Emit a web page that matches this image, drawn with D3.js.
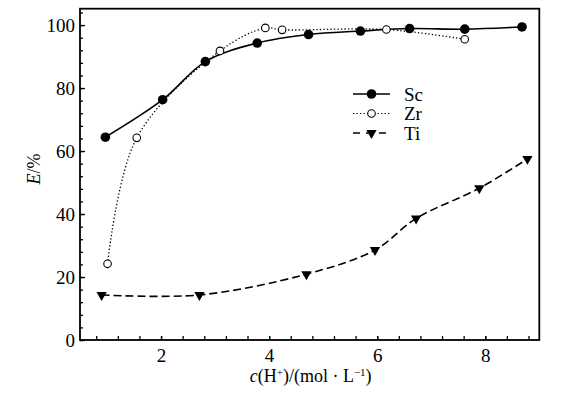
<!DOCTYPE html>
<html>
<head>
<meta charset="utf-8">
<script src="https://cdn.jsdelivr.net/npm/d3@7"></script>
<style>
  body { margin: 0; background: #fff; }
  svg { display: block; }
</style>
</head>
<body>
<svg id="chart"></svg>
<script>
// data
var scX = [0.97, 2.03, 2.82, 3.78, 4.73, 5.69, 6.60, 7.62, 8.68]
var scE = [64.4, 76.3, 88.4, 94.3, 97.0, 98.1, 98.9, 98.7, 99.4]
var zrX = [1.01, 1.55, 3.09, 3.93, 4.24, 6.17, 7.62]
var zrE = [24.2, 64.2, 91.8, 99.1, 98.5, 98.6, 95.5]
var tiX = [0.90, 2.71, 4.69, 5.96, 6.72, 7.89, 8.78]
var tiE = [14.3, 14.3, 20.9, 28.6, 38.6, 48.2, 57.5]
var seriesNames = ["Sc", "Zr", "Ti"]
var xTicks = [2, 4, 6, 8]
var yTicks = [0, 20, 40, 60, 80, 100]

var serif = "'Liberation Serif', 'Times New Roman', Times, serif"
var screen = {width:561, height:397}
var margins = {top:8.7, right:21.7, bottom:57, left:80}
var width = screen.width - margins.left - margins.right
var height = screen.height - margins.top - margins.bottom

var svg = d3.select("#chart")
    .attr("width", screen.width)
    .attr("height", screen.height)

var g = svg.append("g")
    .attr("transform", "translate(" + margins.left + "," + margins.top + ")")

var xScale = d3.scaleLinear().domain([0.5, 9]).range([0, width])
var yScale = d3.scaleLinear().domain([0, 105.2]).range([height, 0])

// minor ticks (every 0.4 on x, every 4 on y), no labels
var xMinor = d3.range(0.8, 8.81, 0.4)
var yMinor = d3.range(0, 104.1, 4)

g.append("g")
    .attr("transform", "translate(0," + height + ")")
    .call(d3.axisBottom(xScale).tickValues(xMinor).tickSize(-4).tickFormat(""))
g.append("g")
    .call(d3.axisLeft(yScale).tickValues(yMinor).tickSize(-3).tickFormat(""))

var xAxis = g.append("g")
    .attr("transform", "translate(0," + height + ")")
    .call(d3.axisBottom(xScale).tickValues(xTicks).tickSize(-4).tickPadding(8).tickFormat(d3.format("d")))
var yAxis = g.append("g")
    .call(d3.axisLeft(yScale).tickValues(yTicks).tickSize(-5).tickPadding(5).tickFormat(d3.format("d")))

g.selectAll(".domain").remove()
g.selectAll(".tick line").attr("stroke", "#000").attr("stroke-width", 1.3)
xAxis.selectAll("text").attr("font-family", null).style("font-family", serif).style("font-size", "19px").attr("dy", "0.72em")
yAxis.selectAll("text").attr("font-family", null).style("font-family", serif).style("font-size", "19px").attr("dy", "0.36em")

// frame
g.append("rect")
    .attr("width", width).attr("height", height)
    .attr("fill", "none").attr("stroke", "#000").attr("stroke-width", 1.8)

// series
var line = d3.line()
    .x(function(d){ return xScale(d[0]) })
    .y(function(d){ return yScale(d[1]) })
    .curve(d3.curveCatmullRom.alpha(0.5))

var sc = d3.zip(scX, scE)
var zr = d3.zip(zrX, zrE)
var ti = d3.zip(tiX, tiE)

var tri = d3.symbol().type(d3.symbolTriangle).size(46)

g.append("path").datum(ti).attr("d", line)
    .attr("fill", "none").attr("stroke", "#000").attr("stroke-width", 1.6).attr("stroke-dasharray", "8,4")
g.append("path").datum(zr).attr("d", line)
    .attr("fill", "none").attr("stroke", "#000").attr("stroke-width", 1.3).attr("stroke-dasharray", "1.3,2.2")
g.append("path").datum(sc).attr("d", line)
    .attr("fill", "none").attr("stroke", "#000").attr("stroke-width", 1.6)

g.selectAll(".ti").data(ti).enter().append("path")
    .attr("class", "ti")
    .attr("d", tri)
    .attr("transform", function(d){ return "translate(" + xScale(d[0]) + "," + yScale(d[1]) + ") rotate(180)" })
    .attr("fill", "#000")
g.selectAll(".zr").data(zr).enter().append("circle")
    .attr("class", "zr")
    .attr("cx", function(d){ return xScale(d[0]) })
    .attr("cy", function(d){ return yScale(d[1]) })
    .attr("r", 3.8)
    .attr("fill", "#fff").attr("stroke", "#000").attr("stroke-width", 1.1)
g.selectAll(".sc").data(sc).enter().append("circle")
    .attr("class", "sc")
    .attr("cx", function(d){ return xScale(d[0]) })
    .attr("cy", function(d){ return yScale(d[1]) })
    .attr("r", 4.8)
    .attr("fill", "#000")

// legend
var legend = svg.append("g").attr("transform", "translate(353,94)")
var rows = legend.selectAll(".row").data(seriesNames).enter().append("g")
    .attr("class", "row")
    .attr("transform", function(d, i){ return "translate(0," + (i * 19.5) + ")" })
rows.append("line")
    .attr("x1", 0).attr("x2", 37).attr("stroke", "#000")
    .attr("stroke-width", function(d){ return d == "Zr" ? 1.1 : 1.6 })
    .attr("stroke-dasharray", function(d){ return d == "Zr" ? "1.3,2.2" : d == "Ti" ? "7,6" : null })
rows.each(function(d){
    var row = d3.select(this)
    if (d == "Sc") row.append("circle").attr("cx", 18.5).attr("r", 4.8).attr("fill", "#000")
    if (d == "Zr") row.append("circle").attr("cx", 18.5).attr("r", 3.8).attr("fill", "#fff").attr("stroke", "#000").attr("stroke-width", 1.1)
    if (d == "Ti") row.append("path").attr("d", tri).attr("transform", "translate(18.5,0) rotate(180)").attr("fill", "#000")
})
rows.append("text")
    .attr("x", 51).attr("dy", "0.36em")
    .style("font-family", serif)
    .style("font-size", "19px")
    .text(function(d){ return d })

// axis titles
var xt = svg.append("text")
    .attr("x", margins.left + width / 2 + 1)
    .attr("y", 382)
    .attr("text-anchor", "middle")
    .style("font-family", serif)
    .style("font-size", "18px")
xt.append("tspan").style("font-style", "italic").text("c")
xt.append("tspan").text("(H")
xt.append("tspan").attr("dy", -6).style("font-size", "11px").text("+")
xt.append("tspan").attr("dy", 6).text(")/(mol · L")
xt.append("tspan").attr("dy", -6).style("font-size", "11px").text("−1")
xt.append("tspan").attr("dy", 6).text(")")

var yt = svg.append("text")
    .attr("transform", "translate(40,169) rotate(-90)")
    .attr("text-anchor", "middle")
    .style("font-family", serif)
    .style("font-size", "18px")
yt.append("tspan").style("font-style", "italic").text("E")
yt.append("tspan").text("/%")
</script>
</body>
</html>
